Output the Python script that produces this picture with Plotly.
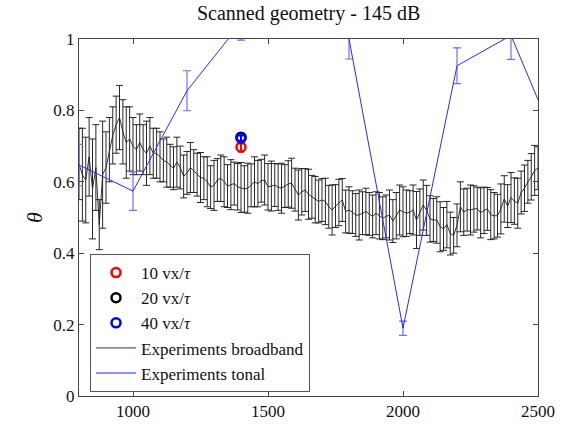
import numpy as np
import plotly.graph_objects as go

# ---- Broadband experiments (12.5 Hz grid, 800..2500 Hz) ----
freq_bb = np.arange(800, 2500.1, 12.5)
theta_bb = [
    0.65, 0.62, 0.605, 0.67, 0.58, 0.64, 0.48, 0.62,
    0.64, 0.69, 0.73, 0.76, 0.78, 0.74, 0.71, 0.72,
    0.70, 0.69, 0.71, 0.69, 0.68, 0.70, 0.68, 0.68,
    0.67, 0.66, 0.655, 0.645, 0.638, 0.655, 0.64, 0.615,
    0.625, 0.64, 0.63, 0.62, 0.612, 0.61, 0.60, 0.585,
    0.59, 0.605, 0.61, 0.60, 0.588, 0.592, 0.595, 0.586,
    0.584, 0.58, 0.582, 0.59, 0.60, 0.595, 0.603, 0.605,
    0.586, 0.588, 0.591, 0.585, 0.582, 0.588, 0.594, 0.596,
    0.578, 0.563, 0.572, 0.577, 0.565, 0.558, 0.55, 0.545,
    0.549, 0.545, 0.53, 0.521, 0.532, 0.542, 0.549, 0.517,
    0.521, 0.515, 0.507, 0.507, 0.512, 0.517, 0.51, 0.503,
    0.512, 0.505, 0.498, 0.503, 0.507, 0.49, 0.505, 0.521,
    0.516, 0.512, 0.515, 0.521, 0.493, 0.515, 0.535, 0.52,
    0.496, 0.493, 0.493, 0.474, 0.468, 0.48, 0.455, 0.45,
    0.478, 0.53, 0.515, 0.522, 0.521, 0.524, 0.525, 0.513,
    0.52, 0.524, 0.508, 0.505, 0.505, 0.524, 0.552, 0.532,
    0.556, 0.546, 0.54, 0.57, 0.582, 0.60, 0.614, 0.632,
    0.638,
]
err_bb = [
    0.10, 0.13, 0.12, 0.11, 0.14, 0.12, 0.07, 0.15,
    0.10, 0.09, 0.08, 0.08, 0.09, 0.09, 0.10, 0.09,
    0.08, 0.07, 0.08, 0.07, 0.09, 0.08, 0.07, 0.07,
    0.07, 0.06, 0.07, 0.06, 0.06, 0.07, 0.06, 0.06,
    0.06, 0.07, 0.06, 0.06, 0.07, 0.06, 0.07, 0.06,
    0.07, 0.06, 0.065, 0.07, 0.06, 0.07, 0.06, 0.065,
    0.07, 0.065, 0.07, 0.06, 0.07, 0.065, 0.06, 0.07,
    0.065, 0.07, 0.06, 0.065, 0.07, 0.06, 0.065, 0.07,
    0.06, 0.07, 0.065, 0.06, 0.07, 0.06, 0.065, 0.06,
    0.06, 0.065, 0.06, 0.07, 0.06, 0.065, 0.06, 0.06,
    0.065, 0.06, 0.06, 0.07, 0.06, 0.065, 0.06, 0.06,
    0.06, 0.065, 0.06, 0.06, 0.07, 0.06, 0.065, 0.07,
    0.07, 0.065, 0.06, 0.07, 0.08, 0.065, 0.07, 0.07,
    0.065, 0.06, 0.065, 0.07, 0.06, 0.065, 0.06, 0.05,
    0.06, 0.07, 0.065, 0.06, 0.07, 0.065, 0.06, 0.07,
    0.065, 0.06, 0.07, 0.065, 0.06, 0.07, 0.065, 0.06,
    0.07, 0.065, 0.07, 0.06, 0.065, 0.06, 0.065, 0.07,
    0.06,
]

# ---- Tonal experiments ----
freq_tonal = [800, 1000, 1200, 1400, 1600, 1800, 2000, 2200, 2400, 2600]
theta_tonal = [0.647, 0.574, 0.855, 1.045, 1.30, 1.0, 0.19, 0.925, 1.01, 0.65]
err_tonal = [0.058, 0.054, 0.056, 0.048, 0.06, 0.056, 0.02, 0.05, 0.067, 0.05]

# ---- Simulations ----
sim_names = ["10 vx/<i>τ</i>", "20 vx/<i>τ</i>", "40 vx/<i>τ</i>"]
sim_colors = ["#ff0000", "#000000", "#0000ff"]
sim_freq = [1400, 1400, 1400]
sim_theta = [0.697, 0.725, 0.722]
sim_err = [0.012, 0.010, 0.008]

FONT = "Liberation Serif"

fig = go.Figure()

fig.add_trace(go.Scatter(
    x=freq_bb, y=theta_bb, mode="lines", name="Experiments broadband",
    line=dict(color="rgb(30,30,30)", width=0.9),
    error_y=dict(type="data", array=err_bb, visible=True,
                 color="rgb(40,40,40)", thickness=1, width=3.5),
    legendrank=4,
))

fig.add_trace(go.Scatter(
    x=freq_tonal, y=theta_tonal, mode="lines", name="Experiments tonal",
    line=dict(color="rgb(40,40,255)", width=1),
    error_y=dict(type="data", array=err_tonal, visible=True,
                 color="rgb(110,110,255)", thickness=1.2, width=4),
    legendrank=5,
))

for i in range(3):
    fig.add_trace(go.Scatter(
        x=[sim_freq[i]], y=[sim_theta[i]], mode="markers", name=sim_names[i],
        marker=dict(symbol="circle-open", size=9, color=sim_colors[i],
                    line=dict(width=2.5, color=sim_colors[i])),
        error_y=dict(type="data", array=[sim_err[i]], visible=True,
                     color=sim_colors[i], thickness=2, width=3),
        legendrank=i + 1,
    ))

axis_common = dict(
    showline=True, linecolor="#444", linewidth=1, mirror="allticks",
    ticks="inside", ticklen=5, tickcolor="#444", showgrid=False, zeroline=False,
    automargin=False,
    tickfont=dict(family=FONT, size=17, color="#111"),
)

fig.update_layout(
    width=567, height=427,
    margin=dict(l=79, r=29, t=39, b=31),
    paper_bgcolor="white", plot_bgcolor="white",
    title=dict(text="Scanned geometry - 145 dB", x=0.5443, xanchor="center",
               y=0.97, yanchor="middle",
               font=dict(family=FONT, size=20, color="#111")),
    xaxis=dict(range=[800, 2500], tickvals=[1000, 1500, 2000, 2500], **axis_common),
    yaxis=dict(range=[0, 1], tickvals=[0, 0.2, 0.4, 0.6, 0.8, 1],
               ticktext=["0", "0.2", "0.4", "0.6", "0.8", "1"],
               title=dict(text="<i>θ</i>", font=dict(family=FONT, size=22, color="#111"),
                          standoff=4),
               **axis_common),
    showlegend=True,
    legend=dict(x=0.024, y=0.011, xanchor="left", yanchor="bottom",
                bgcolor="white", bordercolor="#555", borderwidth=1,
                font=dict(family=FONT, size=17, color="#111"),
                itemwidth=40, tracegroupgap=0,
                entrywidth=215, entrywidthmode="pixels"),
)

fig.write_html("out.html", config={"displayModeBar": False},
               post_script="document.body.style.margin='0';")
